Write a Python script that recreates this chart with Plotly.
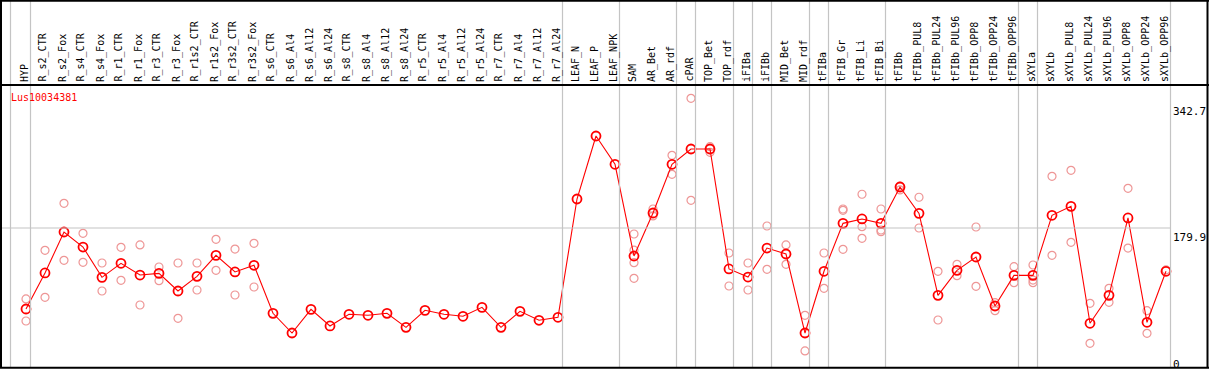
import plotly.graph_objects as go

categories = ["HYP", "R_s2_CTR", "R_s2_Fox", "R_s4_CTR", "R_s4_Fox", "R_r1_CTR", "R_r1_Fox",
              "R_r3_CTR", "R_r3_Fox", "R_r1s2_CTR", "R_r1s2_Fox", "R_r3s2_CTR", "R_r3s2_Fox",
              "R_s6_CTR", "R_s6_Al4", "R_s6_Al12", "R_s6_Al24", "R_s8_CTR", "R_s8_Al4", "R_s8_Al12",
              "R_s8_Al24", "R_r5_CTR", "R_r5_Al4", "R_r5_Al12", "R_r5_Al24", "R_r7_CTR", "R_r7_Al4",
              "R_r7_Al12", "R_r7_Al24", "LEAF_N", "LEAF_P", "LEAF_NPK", "SAM", "AR_Bet", "AR_rdf",
              "cPAR", "TOP_Bet", "TOP_rdf", "iFIBa", "iFIBb", "MID_Bet", "MID_rdf", "tFIBa",
              "tFIB_Gr", "tFIB_Li", "tFIB_Bi", "tFIBb", "tFIBb_PUL8", "tFIBb_PUL24", "tFIBb_PUL96",
              "tFIBb_OPP8", "tFIBb_OPP24", "tFIBb_OPP96", "sXYLa", "sXYLb", "sXYLb_PUL8",
              "sXYLb_PUL24", "sXYLb_PUL96", "sXYLb_OPP8", "sXYLb_OPP24", "sXYLb_OPP96"]

means = [74.3, 121.3, 174.7, 155.1, 115.6, 133.9, 118.6, 120.8, 97.8, 116.9, 144.3, 122.6, 131.3,
         68.7, 43.0, 73.9, 52.2, 67.4, 66.1, 68.7, 50.4, 72.6, 67.4, 64.8, 76.5, 50.4, 71.3, 59.6, 63.5,
         217.7, 299.9, 263.0, 143.4, 199.5, 263.0, 282.9, 282.9, 126.5, 116.0, 153.8, 146.0, 43.0,
         123.5, 186.0, 191.7, 186.0, 233.4, 199.0, 92.1, 124.7, 142.1, 78.2, 118.2, 118.2, 196.5,
         208.2, 55.7, 92.1, 193.0, 57.0, 123.5]

replicates = [
    [87.4, 58.7], [150.8, 89.6], [212.1, 137.8], [173.0, 135.2], [134.3, 97.8], [154.7, 111.7],
    [157.8, 79.5], [129.1, 111.3], [134.3, 62.2], [134.3, 99.1], [165.2, 124.8], [152.5, 92.6],
    [160.0, 103.0],
    [], [], [], [], [], [], [], [], [], [], [], [], [], [], [], [],
    [], [], [],
    [172.1, 151.0, 134.7, 114.3], [204.7, 195.6], [274.7, 249.9], [349.0, 216.0], [286.0, 278.6],
    [147.3, 104.3], [134.3, 99.1], [182.5, 126.1], [157.8, 132.6], [66.1, 19.6], [147.3, 101.3],
    [204.7, 203.0, 152.1], [223.9, 181.6, 166.5], [204.7, 177.3, 175.1], [234.7, 229.5],
    [220.0, 179.9], [123.5, 60.0], [132.6, 117.8], [181.2, 103.9], [82.5, 72.1], [129.5, 108.6],
    [131.7, 112.0, 108.6], [247.3, 144.3], [255.1, 161.3], [81.7, 29.6], [101.3, 83.0],
    [231.7, 153.8], [72.1, 42.6], [125.2],
]

axis_labels = ["342.7", "179.9", "0"]
axis_values = [342.7, 179.9, 0.0]
group_ends = [0, 28, 31, 34, 35, 37, 38, 39, 41, 42, 45, 52, 53, 60]
gene = "Lus10034381"

W, H = 1209, 370
X0, DX = 26.0, 19.0          # pixel of first category, pixel step
Y0, SY = 366.0, 0.767        # pixel of value 0, pixels per unit

def px(p):
    return p / W

def py(p):
    return 1 - p / H

xi = list(range(len(categories)))
rx, ry = [], []
for i, reps in enumerate(replicates):
    for v in reps:
        rx.append(i)
        ry.append(v)

fig = go.Figure()
fig.add_trace(go.Scatter(
    x=rx, y=ry, mode="markers", hoverinfo="skip",
    marker=dict(symbol="circle-open", size=8, color="rgb(238,150,150)",
                line=dict(width=1.2, color="rgb(238,150,150)")),
))
fig.add_trace(go.Scatter(
    x=xi, y=means, mode="lines+markers",
    line=dict(color="red", width=1.1),
    marker=dict(symbol="circle-open", size=9, color="red",
                line=dict(width=1.8, color="red")),
))

shapes = []
# vertical separators (gray)
sep_px = [10.5] + [X0 + DX * g + 4.5 for g in group_ends]
for s in sep_px:
    shapes.append(dict(type="line", xref="paper", yref="paper", x0=px(s), x1=px(s),
                       y0=py(0), y1=py(367.5), line=dict(color="#c4c4c4", width=1.2)))
# horizontal gray line at mid tick
ymid = Y0 - SY * axis_values[1]
shapes.append(dict(type="line", xref="paper", yref="paper", x0=px(1), x1=px(1171),
                   y0=py(ymid), y1=py(ymid), line=dict(color="#c4c4c4", width=1.2)))
# black frame
for (a, b, c, d) in [(0, 0.8, W, 0.8), (0, 85, W, 85), (0, 367.8, W, 367.8)]:
    shapes.append(dict(type="line", xref="paper", yref="paper", x0=px(a), x1=px(c),
                       y0=py(b), y1=py(d), line=dict(color="black", width=2)))
for xx in [1.0, 1207.5]:
    shapes.append(dict(type="line", xref="paper", yref="paper", x0=px(xx), x1=px(xx),
                       y0=py(0), y1=py(368), line=dict(color="black", width=2)))

annotations = []
for i, lab in enumerate(categories):
    annotations.append(dict(x=i - 0.08, xref="x", y=py(83.5), yref="paper", text=lab,
                            textangle=-90, showarrow=False, xanchor="center", yanchor="bottom",
                            font=dict(family="DejaVu Sans Mono", size=10, color="black")))
annotations.append(dict(x=px(9), y=py(98), xref="paper", yref="paper", text=gene,
                        showarrow=False, xanchor="left", yanchor="middle",
                        font=dict(family="DejaVu Sans Mono", size=10, color="red")))
tick_tops = [103.0, 228.5, 355.5]
for lab, t in zip(axis_labels, tick_tops):
    annotations.append(dict(x=px(1171), y=py(t), xref="paper", yref="paper", text=lab,
                            showarrow=False, xanchor="left", yanchor="top",
                            font=dict(family="DejaVu Sans Mono", size=11, color="black")))

fig.update_layout(
    width=W, height=H, margin=dict(l=0, r=0, t=0, b=0),
    paper_bgcolor="white", plot_bgcolor="white", showlegend=False,
    xaxis=dict(range=[(0 - X0) / DX, (W - X0) / DX], visible=False, fixedrange=True),
    yaxis=dict(range=[(Y0 - H) / SY, Y0 / SY], visible=False, fixedrange=True),
    shapes=shapes, annotations=annotations,
)
fig.write_html("out.html", config={"displayModeBar": False},
               post_script="document.body.style.margin='0';document.body.style.overflow='hidden';")
